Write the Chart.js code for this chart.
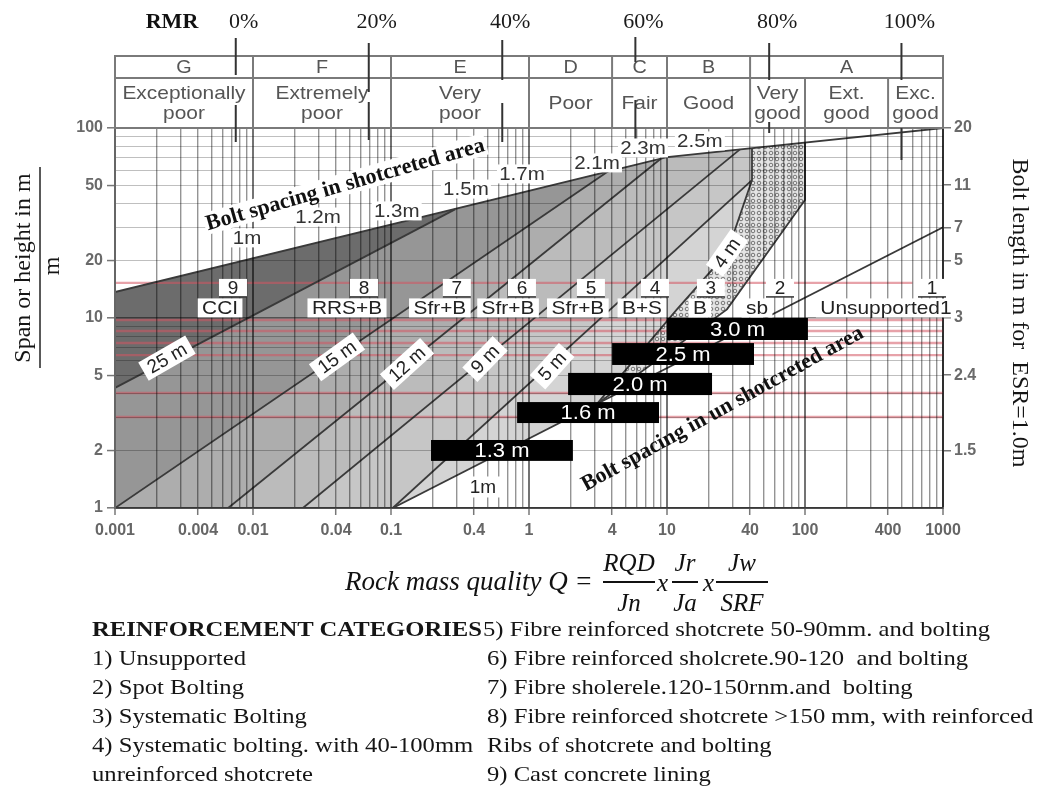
<!DOCTYPE html>
<html>
<head>
<meta charset="utf-8">
<title>Q-system rock support chart</title>
<script src="https://cdn.jsdelivr.net/npm/chart.js@4.4.1/dist/chart.umd.min.js"></script>
<style>
  html, body { margin: 0; padding: 0; background: #fff; }
  #wrap { position: relative; width: 1038px; height: 789px; overflow: hidden; }
  #chart { position: absolute; left: 0; top: 0; }
  .txt { position: absolute; font-family: 'Liberation Serif', 'Times New Roman', serif; color: #151515;
         white-space: pre; line-height: 1; font-size: 22px; transform: scaleX(1.12); transform-origin: 0 0; }
  .fx { position: absolute; font-family: 'Liberation Serif', serif; font-style: italic; color: #111;
        white-space: pre; line-height: 1; }
  .ctr { transform: translateX(-50%); }
  .bar { position: absolute; height: 1.5px; background: #111; }
</style>
</head>
<body>
<div id="wrap">
  <canvas id="chart" width="1038" height="789"></canvas>

  <div class="fx" style="left:345px; top:568px; font-size:27px;">Rock mass quality Q =</div>
  <div class="fx ctr" style="left:629px; top:550px; font-size:25px;">RQD</div>
  <div class="bar" style="left:603px; top:581px; width:52px;"></div>
  <div class="fx ctr" style="left:629px; top:590px; font-size:25px;">Jn</div>
  <div class="fx" style="left:657px; top:570px; font-size:25px;">x</div>
  <div class="fx ctr" style="left:685px; top:550px; font-size:25px;">Jr</div>
  <div class="bar" style="left:672px; top:581px; width:26px;"></div>
  <div class="fx ctr" style="left:685px; top:590px; font-size:25px;">Ja</div>
  <div class="fx" style="left:703px; top:570px; font-size:25px;">x</div>
  <div class="fx ctr" style="left:742px; top:550px; font-size:25px;">Jw</div>
  <div class="bar" style="left:716px; top:581px; width:52px;"></div>
  <div class="fx ctr" style="left:742px; top:590px; font-size:25px;">SRF</div>

  <div class="txt" style="left:92px; top:618px; font-weight:bold;">REINFORCEMENT CATEGORIES</div>
  <div class="txt" style="left:92px; top:647px;">1) Unsupported</div>
  <div class="txt" style="left:92px; top:676px;">2) Spot Bolting</div>
  <div class="txt" style="left:92px; top:705px;">3) Systematic Bolting</div>
  <div class="txt" style="left:92px; top:734px;">4) Systematic bolting. with 40-100mm</div>
  <div class="txt" style="left:92px; top:763px;">unreinforced shotcrete</div>
  <div class="txt" style="left:483px; top:618px;">5) Fibre reinforced shotcrete 50-90mm. and bolting</div>
  <div class="txt" style="left:487px; top:647px;">6) Fibre reinforced sholcrete.90-120  and bolting</div>
  <div class="txt" style="left:487px; top:676px;">7) Fibre sholerele.120-150rnm.and  bolting</div>
  <div class="txt" style="left:487px; top:705px;">8) Fibre reinforced shotcrete &gt;150 mm, with reinforced</div>
  <div class="txt" style="left:487px; top:734px;">Ribs of shotcrete and bolting</div>
  <div class="txt" style="left:487px; top:763px;">9) Cast concrete lining</div>
</div>

<script>
// ---------------- axis values ----------------
const qTicks = [0.001, 0.004, 0.01, 0.04, 0.1, 0.4, 1, 4, 10, 40, 100, 400, 1000];
const spanTicks = [1, 2, 5, 10, 20, 50, 100];
const boltLengthAt = [100, 50, 30, 20, 10, 5, 2];
const boltLengthText = ['20', '11', '7', '5', '3', '2.4', '1.5'];

// ---------------- rock mass classes (header) ----------------
const classEdges = [0.001, 0.01, 0.1, 1, 4, 10, 40, 1000];
const classLetters = ['G', 'F', 'E', 'D', 'C', 'B', 'A'];
const descEdges = [0.001, 0.01, 0.1, 1, 4, 10, 40, 100, 400, 1000];
const descTexts = [['Exceptionally', 'poor'], ['Extremely', 'poor'], ['Very', 'poor'], ['Poor'], ['Fair'],
                   ['Good'], ['Very', 'good'], ['Ext.', 'good'], ['Exc.', 'good']];
const rmrText = ['0%', '20%', '40%', '60%', '80%', '100%'];
const rmrQ = [0.0075, 0.069, 0.64, 5.9, 55, 500];

// ---------------- support chart lines (Q, span) ----------------
// upper limit: bolt spacing in shotcreted area
const topQ = [0.001, 10, 1000];
const topS = [13.7, 70.3, 100];
// category boundaries
const b98Q = [0.001, 0.291];   const b98S = [4.29, 37.3];   // 25 m
const b87Q = [0.001, 3.73];    const b87S = [1, 59.0];      // 15 m
const b76Q = [0.0066, 9.06];   const b76S = [1, 69.1];      // 12 m
const b65Q = [0.023, 33.8];    const b65S = [1, 77.2];      // 9 m
const b54Q = [0.103, 41.3];    const b54S = [1, 53.2];      // 5 m
const b43Q = [3.11, 11.8, 27.2, 41.3, 41.3];  const b43S = [3.53, 11.1, 22, 53.2, 78.3]; // 4 m
const b32Q = [3.11, 27.2, 100, 100];          const b32S = [3.53, 11.1, 41.8, 83.8];
const b21Q = [0.103, 1000];    const b21S = [1, 30];

// horizontal reference lines
const redS = [15.3, 9.76, 8.55, 7.39, 6.38, 4.03, 3.01];
const redQEnd = [600, 1000, 1000, 1000, 1000, 1000, 1000];

// category labels
const catNum = ['9', '8', '7', '6', '5', '4', '3', '2', '1'];
const catName = ['CCI', 'RRS+B', 'Sfr+B', 'Sfr+B', 'Sfr+B', 'B+S', 'B', 'sb', 'Unsupported1'];

// bolt spacing in shotcreted area
const spacingText = ['1m', '1.2m', '1.3m', '1.5m', '1.7m', '2.1m', '2.3m', '2.5m'];
// shotcrete thickness on boundaries
const thickText = ['25 m', '15 m', '12 m', '9 m', '5 m', '4 m'];
// bolt spacing in un-shotcreted area (black bars): Q from, Q to, span top, span bottom
const barText = ['3.0 m', '2.5 m', '2.0 m', '1.6 m', '1.3 m'];
const barQFrom = [10, 4, 1.92, 0.82, 0.195];
const barQTo = [105, 42.7, 21.2, 8.75, 2.08];
const barSTop = [10, 7.38, 5.14, 3.61, 2.28];
const barSBot = [7.66, 5.66, 3.93, 2.80, 1.77];

// ---------------- label placement (data coordinates) ----------------
const layout = {
  catNumQ: [0.00716, 0.0637, 0.30, 0.889, 2.81, 8.18, 20.8, 65.9, 832],
  catNameQ: [0.00577, 0.048, 0.226, 0.705, 2.26, 6.59, 17.3, 44.9, 386],
  catNumS: 14.4, catNameS: 11.3,
  spacingQ: [0.00905, 0.0296, 0.110, 0.349, 0.889, 3.11, 6.70, 17.3],
  spacingS: [26.4, 34.0, 36.6, 47.7, 57.3, 65.5, 78.5, 85.5],
  thickQ: [0.00238, 0.0406, 0.1306, 0.48, 1.47, 27.2],
  thickS: [6.15, 6.24, 5.73, 6.08, 5.58, 22],
  thickAngle: [-30, -36, -42, -46, -48, -55],
  shotQ: 0.0465, shotS: 50.7, shotAngle: -16,
  unshotQ: 25.1, unshotS: 3.36, unshotAngle: -29,
  oneQ: 0.463, oneS: 1.29,
  rmrUpper: [[38, 75], [43, 92], [40, 80], [37, 62], [43, 80], [43, 80]],
  rmrLower: [[105, 142], [102, 140], [103, 142], [100, 150], [122, 133], [128, 160]]
};

// ---------------- helpers ----------------
const pts = (qs, ss) => qs.map((q, i) => ({ x: q, y: ss[i] }));
const near = (list, v) => list.findIndex(t => Math.abs(t - v) <= t * 1e-6);
const isDecade = v => Math.abs(Math.log10(v) - Math.round(Math.log10(v))) < 1e-6;
function decadeGrid(e0, e1) {
  const out = [];
  for (let e = e0; e < e1; e++) for (let k = 1; k < 10; k++) out.push(Number((k * Math.pow(10, e)).toPrecision(6)));
  out.push(Math.pow(10, e1));
  return out;
}
const xGrid = decadeGrid(-3, 3);
const yGrid = decadeGrid(0, 2);

const dots = (() => {
  const c = document.createElement('canvas'); c.width = 6; c.height = 6;
  const g = c.getContext('2d');
  g.fillStyle = '#e4e4e4'; g.fillRect(0, 0, 6, 6);
  g.strokeStyle = 'rgba(105,105,105,0.9)'; g.lineWidth = 1;
  g.beginPath(); g.arc(3, 3, 1.8, 0, Math.PI * 2); g.stroke();
  return g.createPattern(c, 'repeat');
})();

const topStart = { x: topQ[0], y: topS[0] };
const topKnee = { x: topQ[1], y: topS[1] };
const corner = { x: 0.001, y: 1 };

const regions = [
  { data: [corner, { x: b21Q[0], y: b21S[0] }, ...pts(b43Q, b43S), topKnee, topStart], color: '#d4d4d4' },
  { data: [...pts(b43Q, b43S), ...pts(b32Q, b32S).reverse()], color: dots },
  { data: [corner, ...pts(b54Q, b54S), { x: b43Q[4], y: b43S[4] }, topKnee, topStart], color: '#c6c6c6' },
  { data: [corner, ...pts(b65Q, b65S), topKnee, topStart], color: '#bbbbbb' },
  { data: [corner, ...pts(b76Q, b76S), topStart], color: '#adadad' },
  { data: [...pts(b87Q, b87S), topStart], color: '#969696' },
  { data: [...pts(b98Q, b98S), topStart], color: '#6c6c6c' }
];

const datasets = [];
regions.forEach((r, i) => datasets.push({
  data: r.data, fill: 'shape', backgroundColor: r.color, borderWidth: 0, pointRadius: 0, order: 100 - i
}));
redS.forEach((s, i) => datasets.push({
  data: [{ x: 0.001, y: s }, { x: redQEnd[i], y: s }], borderColor: 'rgba(212,86,98,0.55)',
  borderWidth: 2.4, pointRadius: 0, fill: false, order: 40
}));
[[topQ, topS], [b98Q, b98S], [b87Q, b87S], [b76Q, b76S], [b65Q, b65S], [b54Q, b54S],
 [b43Q, b43S], [b32Q, b32S], [b21Q, b21S]].forEach(([q, s]) => datasets.push({
  data: pts(q, s), borderColor: '#3a3a3a', borderWidth: 1.8, pointRadius: 0, fill: false, order: 10
}));

// ---------------- drawing of header, titles and labels ----------------
function box(ctx, text, x, y, o) {
  ctx.save();
  ctx.translate(x, y);
  if (o.angle) ctx.rotate(o.angle * Math.PI / 180);
  if (o.sx) ctx.scale(o.sx, 1);
  ctx.font = o.font;
  const w = ctx.measureText(text).width;
  const pad = o.pad == null ? 3 : o.pad;
  const h = o.h || 18;
  if (o.bg) { ctx.fillStyle = o.bg; ctx.fillRect(-w / 2 - pad, -h / 2, w + 2 * pad, h); }
  ctx.fillStyle = o.color || '#222';
  ctx.textAlign = 'center'; ctx.textBaseline = 'middle';
  ctx.fillText(text, 0, 1);
  ctx.restore();
}

const overlay = {
  id: 'overlay',
  afterDraw(chart) {
    const ctx = chart.ctx;
    const xs = chart.scales.x, ys = chart.scales.y;
    const X = q => xs.getPixelForValue(q), Y = s => ys.getPixelForValue(s);
    const top = chart.chartArea.top, left = chart.chartArea.left, right = chart.chartArea.right;
    const sans = '"Liberation Sans", Arial, sans-serif';
    const serif = '"Liberation Serif", "Times New Roman", serif';

    // header table
    const hTop = 56, hMid = 78;
    ctx.save();
    ctx.strokeStyle = '#7a7a7a'; ctx.lineWidth = 2;
    ctx.strokeRect(left, hTop, right - left, top - hTop);
    ctx.beginPath(); ctx.moveTo(left, hMid); ctx.lineTo(right, hMid); ctx.stroke();
    classEdges.slice(1, -1).forEach(q => { ctx.beginPath(); ctx.moveTo(X(q), hTop); ctx.lineTo(X(q), top); ctx.stroke(); });
    [100, 400].forEach(q => { ctx.beginPath(); ctx.moveTo(X(q), hMid); ctx.lineTo(X(q), top); ctx.stroke(); });
    ctx.restore();
    classLetters.forEach((t, i) => box(ctx, t, (X(classEdges[i]) + X(classEdges[i + 1])) / 2, 67,
      { font: '18px ' + sans, color: '#555', sx: 1.1 }));
    descTexts.forEach((lines, i) => {
      const cx = (X(descEdges[i]) + X(descEdges[i + 1])) / 2;
      const o = { font: '19px ' + sans, color: '#555', sx: 1.1 };
      if (lines.length === 1) box(ctx, lines[0], cx, 103, o);
      else { box(ctx, lines[0], cx, 93, o); box(ctx, lines[1], cx, 113, o); }
    });
    // RMR scale
    ctx.save();
    ctx.strokeStyle = '#333'; ctx.lineWidth = 2;
    rmrQ.forEach((q, i) => {
      const x = X(q);
      [layout.rmrUpper[i], layout.rmrLower[i]].forEach(([a, b]) => {
        ctx.beginPath(); ctx.moveTo(x, a); ctx.lineTo(x, b); ctx.stroke();
      });
    });
    ctx.restore();
    rmrText.forEach((t, i) => box(ctx, t, X(rmrQ[i]) + 8, 21, { font: '22px ' + serif, color: '#1a1a1a' }));
    box(ctx, 'RMR', 172, 21, { font: 'bold 22px ' + serif, color: '#111' });

    // axis titles
    ctx.save();
    ctx.fillStyle = '#151515'; ctx.textAlign = 'center'; ctx.textBaseline = 'middle';
    ctx.font = '24px ' + serif;
    ctx.save(); ctx.translate(24, 268); ctx.rotate(-Math.PI / 2); ctx.fillText('Span or height in m', 0, 0); ctx.restore();
    ctx.strokeStyle = '#222'; ctx.lineWidth = 1.5;
    ctx.beginPath(); ctx.moveTo(40, 167); ctx.lineTo(40, 368); ctx.stroke();
    ctx.save(); ctx.translate(53, 266); ctx.rotate(-Math.PI / 2); ctx.fillText('m', 0, 0); ctx.restore();
    ctx.save(); ctx.translate(1019, 313); ctx.rotate(Math.PI / 2); ctx.fillText('Bolt length in m for  ESR=1.0m', 0, 0); ctx.restore();
    ctx.restore();

    // category labels
    catNum.forEach((t, i) => {
      const x = X(layout.catNumQ[i]), y = Y(layout.catNumS);
      ctx.save();
      ctx.font = '19px ' + sans;
      const w = Math.max(28, ctx.measureText(t).width + 16);
      ctx.fillStyle = '#fff'; ctx.fillRect(x - w / 2, y - 9, w, 18);
      ctx.strokeStyle = '#333'; ctx.lineWidth = 1.5;
      ctx.beginPath(); ctx.moveTo(x - w / 2, y + 9); ctx.lineTo(x + w / 2, y + 9); ctx.stroke();
      ctx.restore();
      box(ctx, t, x, y, { font: '19px ' + sans, color: '#222' });
    });
    catName.forEach((t, i) => box(ctx, t, X(layout.catNameQ[i]), Y(layout.catNameS),
      { font: '19px ' + sans, bg: '#fff', color: '#222', h: 19, pad: 4, sx: 1.1 }));

    // bolt spacing along the shotcrete limit
    spacingText.forEach((t, i) => box(ctx, t, X(layout.spacingQ[i]), Y(layout.spacingS[i]),
      { font: '19px ' + sans, bg: '#fff', color: '#333', h: 19, pad: 2, sx: 1.08 }));
    // shotcrete thickness on boundaries
    thickText.forEach((t, i) => box(ctx, t, X(layout.thickQ[i]), Y(layout.thickS[i]),
      { font: '19px ' + sans, bg: '#fff', color: '#222', h: 21, pad: 6, angle: layout.thickAngle[i] }));
    box(ctx, '1m', X(layout.oneQ), Y(layout.oneS), { font: '19px ' + sans, bg: '#fff', color: '#222', h: 21, pad: 7 });

    // black bars
    barText.forEach((t, i) => {
      const x0 = X(barQFrom[i]), x1 = X(barQTo[i]), y0 = Y(barSTop[i]), y1 = Y(barSBot[i]);
      ctx.fillStyle = '#000'; ctx.fillRect(x0, y0, x1 - x0, y1 - y0);
      box(ctx, t, (x0 + x1) / 2, (y0 + y1) / 2, { font: '20px ' + sans, color: '#fff', sx: 1.1 });
    });

    // zone captions
    const serifB = 'bold 22px ' + serif;
    box(ctx, 'Bolt spacing in shotcreted area', X(layout.shotQ), Y(layout.shotS),
      { font: serifB, bg: '#fff', color: '#111', h: 22, pad: 2, angle: layout.shotAngle });
    box(ctx, 'Bolt spacing in un shotcreted area', X(layout.unshotQ), Y(layout.unshotS),
      { font: serifB, color: '#111', angle: layout.unshotAngle });
  }
};

const tickFont = { family: '"Liberation Sans", Arial, sans-serif', size: 16, weight: 'bold' };

new Chart(document.getElementById('chart'), {
  type: 'line',
  data: { datasets },
  options: {
    responsive: false, animation: false, devicePixelRatio: 1, events: [],
    layout: { padding: { top: 128, left: 0, right: 0, bottom: 0 } },
    plugins: { legend: { display: false }, tooltip: { enabled: false } },
    elements: { line: { tension: 0 }, point: { radius: 0 } },
    scales: {
      x: {
        type: 'logarithmic', position: 'bottom', min: 0.001, max: 1000,
        afterBuildTicks: s => { s.ticks = xGrid.map(v => ({ value: v })); },
        afterFit: s => { s.height = 281; },
        ticks: { autoSkip: false, maxRotation: 0, minRotation: 0, padding: 6, color: '#666', font: tickFont,
                 callback: v => { const i = near(qTicks, v); return i < 0 ? '' : String(qTicks[i]); } },
        grid: { z: 1, tickLength: 7,
                color: c => (isDecade(c.tick.value) ? 'rgba(0,0,0,0.55)' : 'rgba(0,0,0,0.42)'),
                lineWidth: c => (isDecade(c.tick.value) ? 2 : 1.4),
                tickColor: c => (near(qTicks, c.tick.value) < 0 ? 'rgba(0,0,0,0)' : '#777'), tickWidth: 1.5 },
        border: { display: true, color: '#666', width: 2, z: 1 }
      },
      y: {
        type: 'logarithmic', position: 'left', min: 1, max: 100,
        afterBuildTicks: s => { s.ticks = yGrid.map(v => ({ value: v })); },
        afterFit: s => { s.width = 115; },
        ticks: { autoSkip: false, padding: 4, color: '#6a6a6a', font: tickFont,
                 callback: v => { const i = near(spanTicks, v); return i < 0 ? '' : String(spanTicks[i]); } },
        grid: { z: 1, tickLength: 8,
                color: c => (isDecade(c.tick.value) ? 'rgba(0,0,0,0.45)' : 'rgba(0,0,0,0.25)'),
                lineWidth: c => (isDecade(c.tick.value) ? 1.6 : 1.1),
                tickColor: c => (near(spanTicks, c.tick.value) < 0 ? 'rgba(0,0,0,0)' : '#777'), tickWidth: 1.5 },
        border: { display: true, color: '#666', width: 2, z: 1 }
      },
      y2: {
        type: 'logarithmic', position: 'right', min: 1, max: 100,
        afterBuildTicks: s => { s.ticks = boltLengthAt.map(v => ({ value: v })); },
        afterFit: s => { s.width = 95; },
        ticks: { autoSkip: false, padding: 3, color: '#6a6a6a', font: tickFont,
                 callback: v => { const i = near(boltLengthAt, v); return i < 0 ? '' : boltLengthText[i]; } },
        grid: { drawOnChartArea: false, tickLength: 8, color: '#777', lineWidth: 1.5 },
        border: { display: true, color: '#666', width: 2 }
      }
    }
  },
  plugins: [overlay]
});
</script>
</body>
</html>
